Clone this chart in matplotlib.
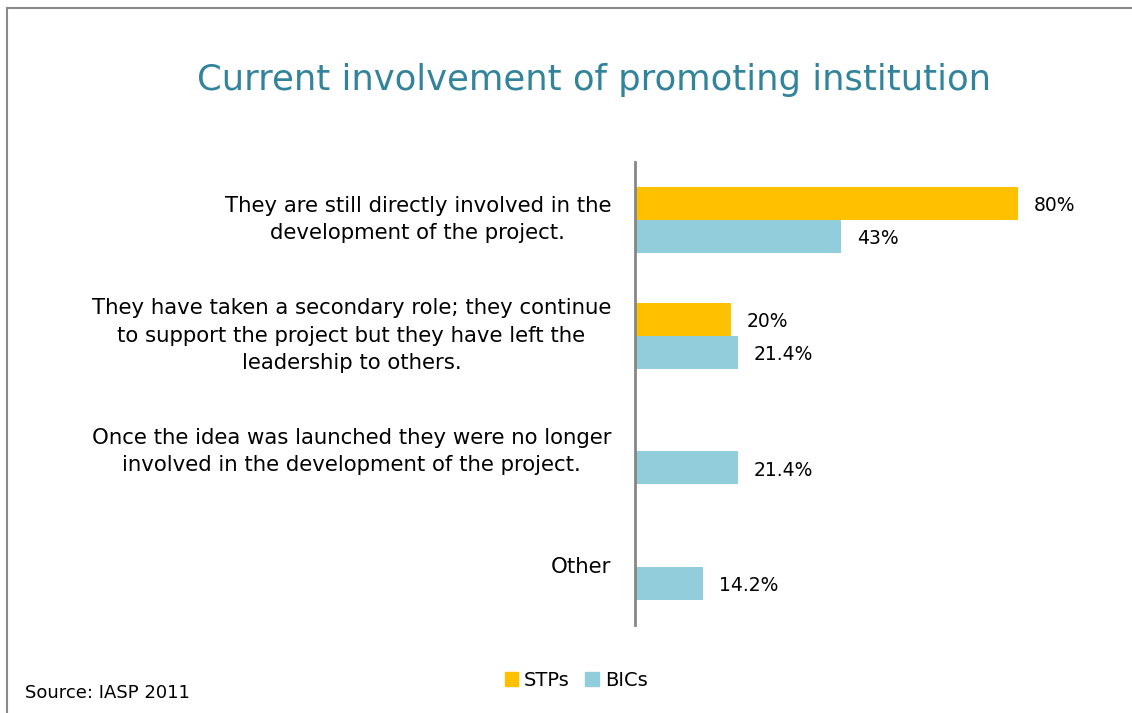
import matplotlib.pyplot as plt
import matplotlib.patches as mpatches
import numpy as np

categorias = [
    "They are still directly involved in the\ndevelopment of the project.",
    "They have taken a secondary role; they continue\nto support the project but they have left the\nleadership to others.",
    "Once the idea was launched they were no longer\ninvolved in the development of the project.",
    "Other",
]
stps = [80, 20, 0, 0]
bics = [43, 21.4, 21.4, 14.2]
etiquetas_stps = ["80%", "20%", "", ""]
etiquetas_bics = ["43%", "21.4%", "21.4%", "14.2%"]

amarillo = "#FFC000"
azul = "#92CDDC"

plt.rcParams['font.family'] = ['DejaVu Sans']

fig = plt.figure(figsize=(11.32, 7.13), dpi=100)

# marco gris de la diapositiva
fig.patches.append(mpatches.Rectangle((7 / 1132, -0.05), 1.2, 1 - 8 / 713 + 0.05,
                                      transform=fig.transFigure, fill=False,
                                      edgecolor="#8a8a8a", linewidth=1.5))

ax = fig.add_axes([635 / 1132, 1 - 625 / 713, 479 / 1132, 463 / 713])

y = np.arange(len(categorias))
alto = 0.286
ax.barh(y - alto / 2, stps, height=alto, color=amarillo)
ax.barh(y + alto / 2, bics, height=alto, color=azul)

for i in range(len(categorias)):
    if etiquetas_stps[i]:
        ax.text(stps[i] + 3.3, y[i] - alto / 2 + 0.02, etiquetas_stps[i], va="center",
                ha="left", fontsize=13.5)
    ax.text(bics[i] + 3.3, y[i] + alto / 2 + 0.02, etiquetas_bics[i], va="center",
            ha="left", fontsize=13.5)
    ax.text(-5, y[i], categorias[i], va="center", ha="right",
            multialignment="center", fontsize=15.3, linespacing=1.45)

ax.set_xlim(0, 100)
ax.set_ylim(3.5, -0.5)
ax.set_xticks([])
ax.set_yticks([])
for lado in ["top", "right", "bottom"]:
    ax.spines[lado].set_visible(False)
ax.spines["left"].set_color("#868686")
ax.spines["left"].set_linewidth(2)

fig.text(594 / 1132, 1 - 80 / 713, "Current involvement of promoting institution",
         ha="center", va="center", fontsize=25.5, color="#31849B")

fig.text(25 / 1132, 1 - 693 / 713, "Source: IASP 2011", ha="left", va="center",
         fontsize=13)

handles = [mpatches.Patch(color=amarillo, label="STPs"),
           mpatches.Patch(color=azul, label="BICs")]
fig.legend(handles=handles, loc="center", bbox_to_anchor=(576 / 1132, 1 - 680 / 713),
           ncol=2, frameon=False, fontsize=14, handlelength=0.7, handleheight=0.7,
           handletextpad=0.3, columnspacing=0.8)

plt.savefig("out.png", dpi=100)
